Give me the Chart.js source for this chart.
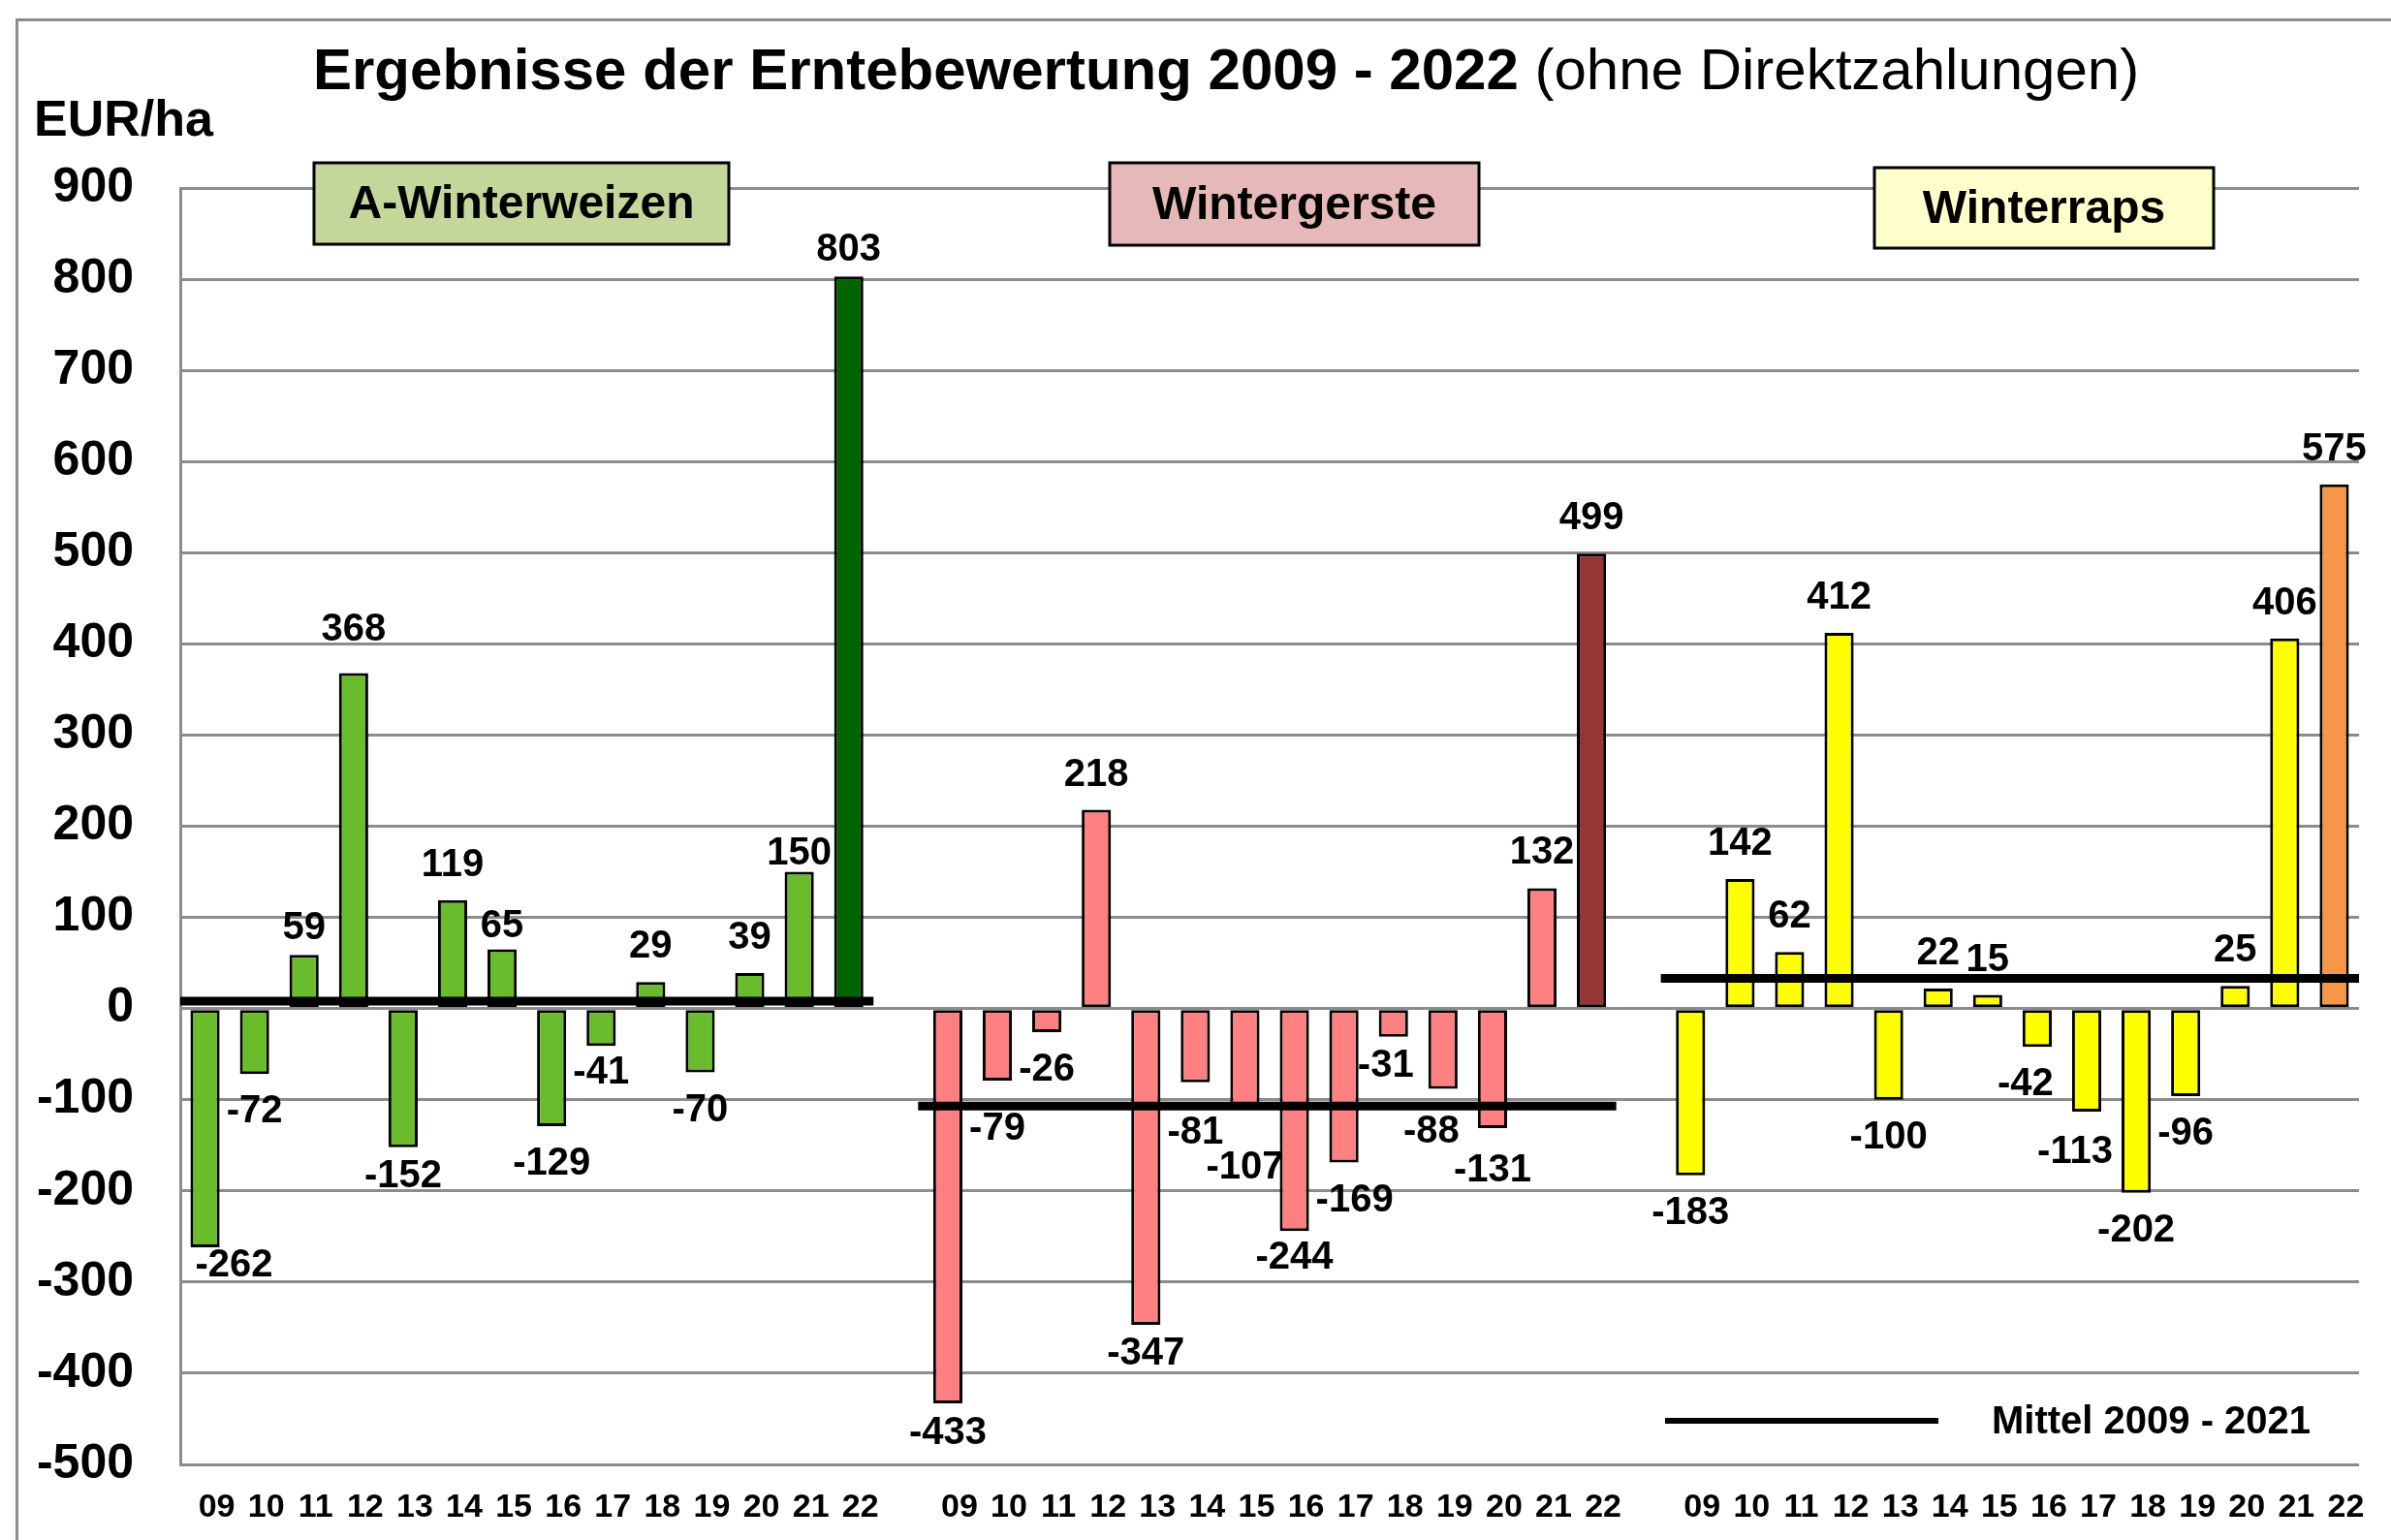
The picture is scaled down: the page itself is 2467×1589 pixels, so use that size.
<!DOCTYPE html>
<html>
<head>
<meta charset="utf-8">
<script src="https://cdn.jsdelivr.net/npm/chart.js@4"></script>
<style>
    body { margin: 0; background: #fff; }
    #wrap { width: 2467px; height: 1589px; position: relative; }
</style>
</head>
<body>
<div id="wrap"><canvas id="myCanvas"></canvas></div>
<script>
// data
const years = ['09', '10', '11', '12', '13', '14', '15', '16', '17', '18', '19', '20', '21', '22']
const crops = ['A-Winterweizen', 'Wintergerste', 'Winterraps']
const weizen = [-262, -72, 59, 368, -152, 119, 65, -129, -41, 29, -70, 39, 150, 803]
const gerste = [-433, -79, -26, 218, -347, -81, -107, -244, -169, -31, -88, -131, 132, 499]
const raps = [-183, 142, 62, 412, -100, 22, 15, -42, -113, -202, -96, 25, 406, 575]
const means = [8, -107, 33]
const yTicks = [-500, -400, -300, -200, -100, 0, 100, 200, 300, 400, 500, 600, 700, 800, 900]

const titleBold = 'Ergebnisse der Erntebewertung 2009 - 2022'
const titleNormal = '(ohne Direktzahlungen)'
const unitLabel = 'EUR/ha'
const meanLabel = 'Mittel 2009 - 2021'

const baseColors = ['#69bc2b', '#ff8080', '#ffff00']
const lastColors = ['#006400', '#943634', '#f79646']
const boxColors = ['#c4d79b', '#e6b9b8', '#ffffcc']
const fontFamily = '"Liberation Sans", Arial, Helvetica, sans-serif'
const gray = '#8c8c8c'

const groupValues = [weizen, gerste, raps]
const slotsPerGroup = years.length + 1   // one empty slot between groups

// category list: 09..22, gap, 09..22, gap, 09..22
const categories = []
crops.forEach((c, g) => {
    if (g > 0) categories.push('')
    years.forEach(y => categories.push(y))
})

const barSets = groupValues.map((vals, g) => {
    const data = new Array(categories.length).fill(null)
    vals.forEach((v, i) => { data[g * slotsPerGroup + i] = v })
    const colors = data.map((v, i) => i === g * slotsPerGroup + years.length - 1 ? lastColors[g] : baseColors[g])
    return {
        type: 'bar',
        label: crops[g],
        data: data,
        backgroundColor: colors,
        borderColor: '#000',
        borderWidth: 3,
        borderSkipped: false,
        barPercentage: 0.59,
        categoryPercentage: 1,
        grouped: false,
        order: 2
    }
})

// mean lines on a hidden linear x axis that matches the category slots
const meanSets = means.map((m, g) => ({
    type: 'line',
    label: meanLabel,
    data: [{ x: g * slotsPerGroup - 0.6, y: m }, { x: g * slotsPerGroup + years.length - 0.5, y: m }],
    xAxisID: 'xm',
    borderColor: '#000',
    borderWidth: 9,
    pointRadius: 0,
    fill: false,
    order: 0
}))

// small label shifts, as in the reference (group-index: [dx, dy])
const nudge = {
    '0-0': [30, -20], '0-2': [0, 9], '0-3': [0, -8], '0-4': [0, -9], '0-6': [0, 12],
    '0-8': [0, -11], '0-12': [0, 17], '0-13': [0, 9],
    '1-0': [0, -8], '1-1': [0, 11], '1-4': [0, -9], '1-5': [0, 13], '1-6': [0, 25],
    '1-7': [0, -11], '1-8': [11, 0], '1-9': [-8, -9], '1-10': [-12, 6], '1-11': [0, 5],
    '2-7': [-12, 0], '2-8': [-12, 3]
}

const valueLabels = {
    id: 'valueLabels',
    afterDatasetsDraw(chart) {
        const ctx = chart.ctx
        ctx.save()
        ctx.font = 'bold 40px ' + fontFamily
        ctx.fillStyle = '#000'
        ctx.textAlign = 'center'
        ctx.textBaseline = 'middle'
        groupValues.forEach((vals, g) => {
            const meta = chart.getDatasetMeta(g)
            vals.forEach((v, i) => {
                const bar = meta.data[g * slotsPerGroup + i]
                if (!bar) return
                const n = nudge[g + '-' + i] || [0, 0]
                const y = v >= 0 ? bar.y - 36 : bar.y + 39
                ctx.fillText(String(v), bar.x + n[0], y + n[1])
            })
        })
        ctx.restore()
    }
}

// title, unit, crop boxes, legend and frame
const boxes = [
    { x: 324, y: 168, w: 428, h: 84 },
    { x: 1145, y: 168, w: 381, h: 85 },
    { x: 1934, y: 173, w: 350, h: 83 }
]

const decorations = {
    id: 'decorations',
    afterDraw(chart) {
        const ctx = chart.ctx
        ctx.save()

        // outer frame
        ctx.strokeStyle = gray
        ctx.lineWidth = 3
        ctx.strokeRect(17.5, 20.5, 2500, 1620)

        // title
        ctx.fillStyle = '#000'
        ctx.textAlign = 'left'
        ctx.textBaseline = 'alphabetic'
        ctx.font = 'bold 60px ' + fontFamily
        ctx.fillText(titleBold, 323, 92)
        const w = ctx.measureText(titleBold + ' ').width
        ctx.font = '60px ' + fontFamily
        ctx.fillText(titleNormal, 323 + w, 92)

        // unit
        ctx.font = 'bold 52px ' + fontFamily
        ctx.fillText(unitLabel, 35, 140)

        // crop name boxes
        ctx.font = 'bold 48px ' + fontFamily
        ctx.textAlign = 'center'
        ctx.textBaseline = 'middle'
        boxes.forEach((b, g) => {
            ctx.fillStyle = boxColors[g]
            ctx.fillRect(b.x, b.y, b.w, b.h)
            ctx.strokeStyle = '#000'
            ctx.lineWidth = 3
            ctx.strokeRect(b.x, b.y, b.w, b.h)
            ctx.fillStyle = '#000'
            ctx.fillText(crops[g], b.x + b.w / 2, b.y + b.h / 2 + 2)
        })

        // legend for the mean line
        ctx.strokeStyle = '#000'
        ctx.lineWidth = 6
        ctx.beginPath()
        ctx.moveTo(1718, 1466)
        ctx.lineTo(2000, 1466)
        ctx.stroke()
        ctx.textAlign = 'left'
        ctx.font = 'bold 40px ' + fontFamily
        ctx.fillText(meanLabel, 2055, 1468)

        ctx.restore()
    }
}

Chart.defaults.font.family = fontFamily

const myChart = document.getElementById('myCanvas').getContext('2d')

new Chart(myChart, {
    type: 'bar',
    data: {
        labels: categories,
        datasets: [...barSets, ...meanSets]
    },
    options: {
        responsive: true,
        maintainAspectRatio: false,
        animation: false,
        layout: { padding: { top: 194, right: 33, left: 0, bottom: 0 } },
        plugins: {
            legend: { display: false },
            title: { display: false },
            tooltip: { enabled: false }
        },
        scales: {
            x: {
                type: 'category',
                labels: categories,
                offset: true,
                ticks: {
                    autoSkip: false,
                    maxRotation: 0,
                    color: '#000',
                    padding: 24,
                    labelOffset: 12,
                    font: { size: 34, weight: 'bold' }
                },
                grid: { display: false, drawTicks: false },
                border: { display: false },
                afterFit(scale) { scale.height = 76 }
            },
            xm: {
                type: 'linear',
                display: false,
                offset: false,
                bounds: 'data',
                grid: { offset: false },
                min: -0.5,
                max: categories.length - 0.5
            },
            y: {
                min: yTicks[0],
                max: yTicks[yTicks.length - 1],
                afterBuildTicks(scale) { scale.ticks = yTicks.map(v => ({ value: v })) },
                ticks: {
                    color: '#000',
                    padding: 48,
                    font: { size: 50, weight: 'bold' }
                },
                grid: { color: gray, lineWidth: 3, drawTicks: false },
                border: { color: gray, width: 3 },
                afterFit(scale) { scale.width = 186 }
            }
        }
    },
    plugins: [valueLabels, decorations]
})
</script>
</body>
</html>
